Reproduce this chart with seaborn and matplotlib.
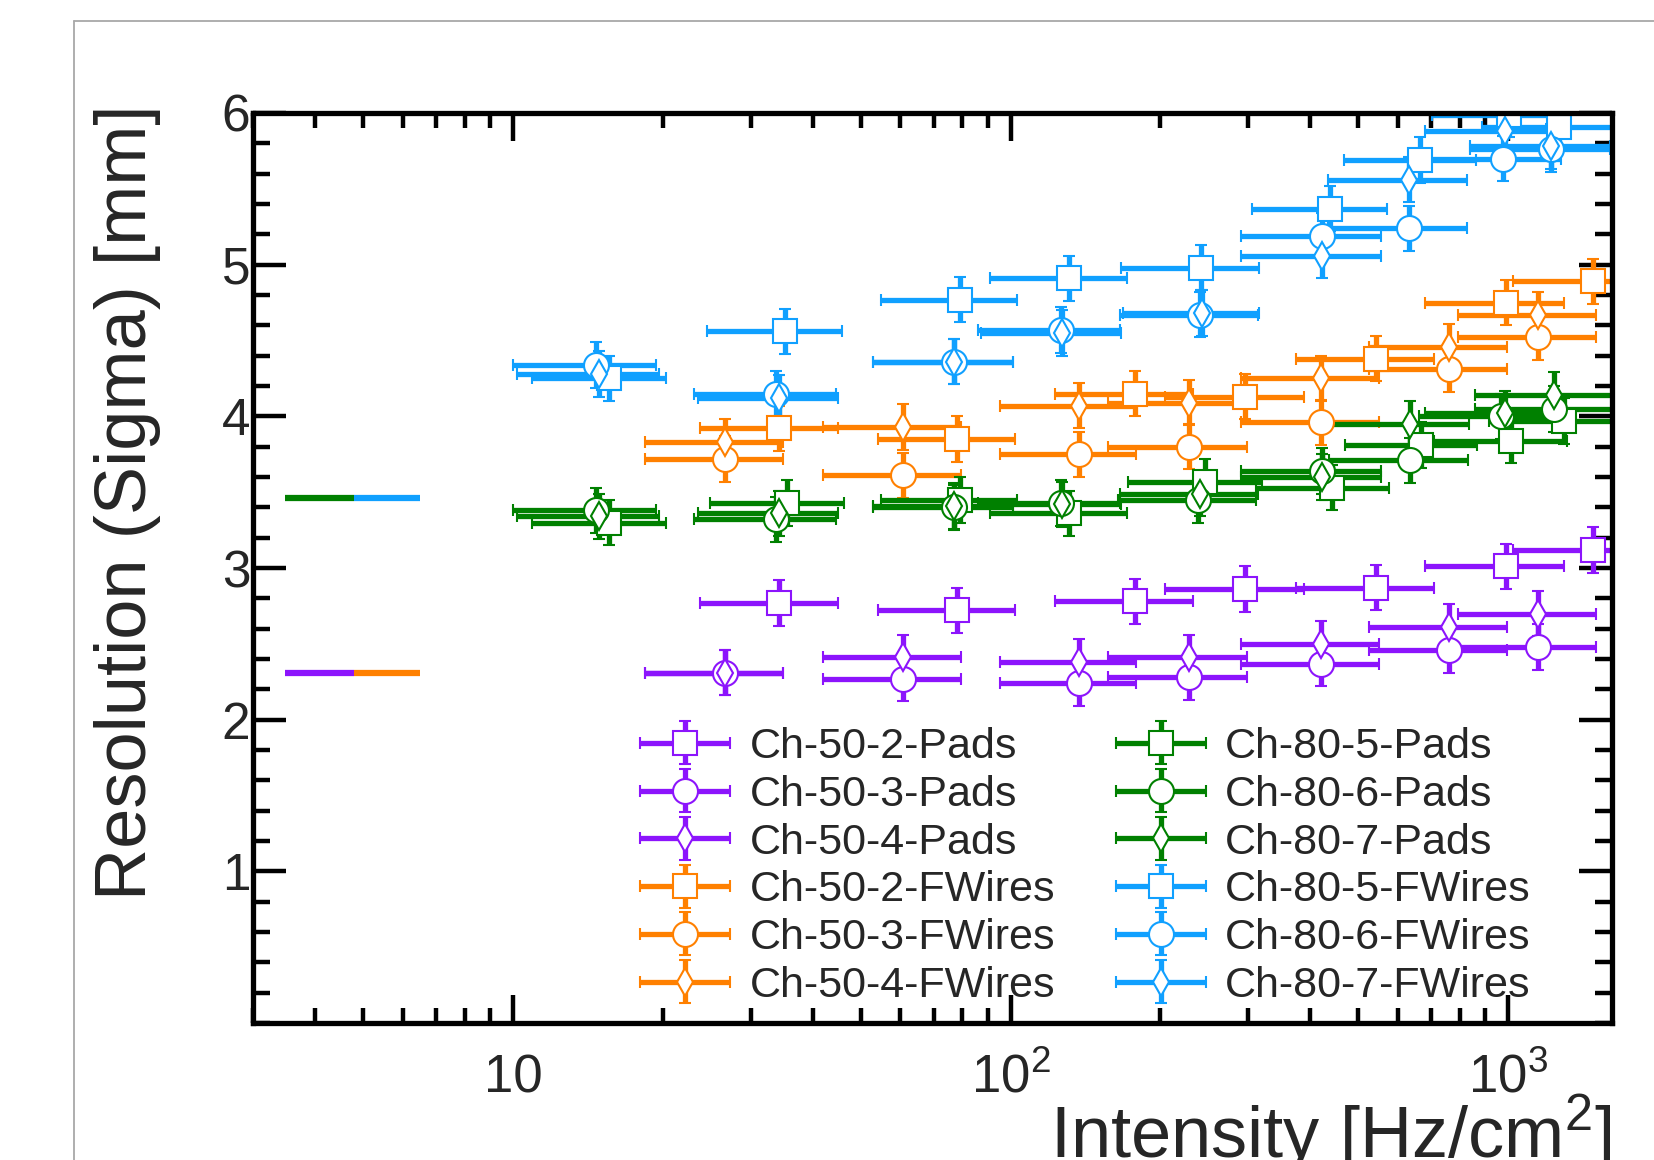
import matplotlib
matplotlib.use("Agg")
import matplotlib.pyplot as plt
import seaborn as sns
from matplotlib.lines import Line2D
from matplotlib.container import ErrorbarContainer
from matplotlib.legend_handler import HandlerErrorbar
from matplotlib.ticker import FixedLocator, FuncFormatter, LogLocator, MultipleLocator, NullFormatter

# ---------------- data ----------------
# x bins (intensity, Hz/cm^2) and their half-widths
x50_sq = [34.3, 78, 178, 296, 542, 988, 1479]
xe50_sq = [10.6, 24, 55, 92, 168, 306, 458]
x50_cd = [26.6, 60.8, 137, 228, 420, 760, 1146]
xe50_cd = [8.2, 18.8, 42, 71, 130, 236, 355]

x80_5_pads = [15.6, 35.6, 79, 131, 246, 443, 667, 1012, 1297]
x80_6_pads = [14.7, 33.8, 77, 126, 238, 423, 634, 966, 1238]
x80_7_pads = [14.9, 34.2, 77, 127, 240, 423, 636, 985, 1238]
x80_5_fw = [15.6, 35.2, 79, 131, 241, 438, 664, 1005, 1265]
x80_6_fw = [14.7, 33.8, 77, 126, 240, 423, 631, 975, 1220]
x80_7_fw = [14.9, 34.2, 77, 127, 242, 423, 631, 985, 1219]
xe80 = [4.7, 10.7, 24, 40, 74, 132, 197, 303, 380]

# resolution (sigma) [mm]
y50_2_pads = [2.77, 2.72, 2.78, 2.86, 2.87, 3.01, 3.12]
y50_3_pads = [2.31, 2.27, 2.24, 2.28, 2.37, 2.46, 2.48]
y50_4_pads = [2.31, 2.41, 2.38, 2.41, 2.50, 2.61, 2.70]
y50_2_fw = [3.92, 3.85, 4.15, 4.13, 4.38, 4.75, 4.89]
y50_3_fw = [3.72, 3.61, 3.75, 3.80, 3.96, 4.31, 4.52]
y50_4_fw = [3.83, 3.93, 4.07, 4.09, 4.25, 4.46, 4.67]
y80_5_pads = [3.30, 3.43, 3.45, 3.36, 3.57, 3.53, 3.81, 3.84, 3.97]
y80_6_pads = [3.38, 3.32, 3.40, 3.43, 3.45, 3.64, 3.71, 4.00, 4.05]
y80_7_pads = [3.34, 3.36, 3.41, 3.42, 3.49, 3.60, 3.95, 4.02, 4.14]
y80_5_fw = [4.25, 4.56, 4.77, 4.91, 4.98, 5.37, 5.69, 5.99, 5.91]
y80_6_fw = [4.34, 4.15, 4.36, 4.57, 4.67, 5.19, 5.24, 5.70, 5.76]
y80_7_fw = [4.28, 4.12, 4.36, 4.55, 4.68, 5.06, 5.56, 5.88, 5.78]
yerr_all = 0.15

# reference levels drawn at low intensity (two-colour segments)
ref_levels = [3.46, 2.31]
ref_x = [3.48, 4.78, 6.49]
ref_colors = [("#008000", "#10A0FF"), ("#8C14FC", "#FF8000")]

labels = ["Ch-50-2-Pads", "Ch-50-3-Pads", "Ch-50-4-Pads",
          "Ch-50-2-FWires", "Ch-50-3-FWires", "Ch-50-4-FWires",
          "Ch-80-5-Pads", "Ch-80-6-Pads", "Ch-80-7-Pads",
          "Ch-80-5-FWires", "Ch-80-6-FWires", "Ch-80-7-FWires"]
xs = [x50_sq, x50_cd, x50_cd, x50_sq, x50_cd, x50_cd,
      x80_5_pads, x80_6_pads, x80_7_pads, x80_5_fw, x80_6_fw, x80_7_fw]
xes = [xe50_sq, xe50_cd, xe50_cd, xe50_sq, xe50_cd, xe50_cd,
       xe80, xe80, xe80, xe80, xe80, xe80]
ys = [y50_2_pads, y50_3_pads, y50_4_pads, y50_2_fw, y50_3_fw, y50_4_fw,
      y80_5_pads, y80_6_pads, y80_7_pads, y80_5_fw, y80_6_fw, y80_7_fw]

PURPLE, ORANGE, GREEN, BLUE = "#8C14FC", "#FF8000", "#008000", "#10A0FF"
colors = [PURPLE] * 3 + [ORANGE] * 3 + [GREEN] * 3 + [BLUE] * 3
markers = ["s", "o", "d"] * 4
msizes = {"s": 17, "o": 18, "d": 14}

# ---------------- style ----------------
sns.set_theme(style="ticks")
plt.rcParams["font.family"] = ["Liberation Sans", "DejaVu Sans"]
plt.rcParams["mathtext.fontset"] = "custom"
plt.rcParams["mathtext.rm"] = "Liberation Sans"
plt.rcParams["mathtext.it"] = "Liberation Sans:italic"

fig = plt.figure(figsize=(16.54, 11.60), dpi=100)
fig.patch.set_facecolor("white")
ax = fig.add_axes([253 / 1654, 1 - 1023 / 1160, (1612 - 253) / 1654, (1023 - 113) / 1160])
ax.set_facecolor("white")

# canvas frame (grey border on left/top)
fig.add_artist(Line2D([74 / 1654, 1.0], [1 - 21 / 1160] * 2, transform=fig.transFigure,
                      color="#a8a8a8", lw=1.3))
fig.add_artist(Line2D([74 / 1654] * 2, [0.0, 1 - 21 / 1160], transform=fig.transFigure,
                      color="#a8a8a8", lw=1.3))

handles = []
for x, xe, y, c, m, lab in zip(xs, xes, ys, colors, markers, labels):
    h = ax.errorbar(x, y, xerr=xe, yerr=yerr_all, fmt=m, linestyle="none",
                    ms=msizes[m], mfc="white", mec=c, mew=1.5,
                    ecolor=c, elinewidth=3.8, capsize=4.5, capthick=4, label=lab)
    handles.append(h)

for lvl, (c1, c2) in zip(ref_levels, ref_colors):
    ax.hlines(lvl, ref_x[0], ref_x[1], color=c1, lw=4.5)
    ax.hlines(lvl, ref_x[1], ref_x[2], color=c2, lw=4.5)

ax.set_xscale("log")
ax.set_xlim(3, 1617)
ax.set_ylim(0, 6)

ax.xaxis.set_major_locator(FixedLocator([10, 100, 1000]))
ax.xaxis.set_major_formatter(FuncFormatter(
    lambda v, p: {10: "10", 100: r"$10^{2}$", 1000: r"$10^{3}$"}.get(int(round(v)), "")))
ax.xaxis.set_minor_locator(LogLocator(base=10, subs=range(2, 10), numticks=20))
ax.xaxis.set_minor_formatter(NullFormatter())
ax.yaxis.set_major_locator(FixedLocator([1, 2, 3, 4, 5, 6]))
ax.yaxis.set_minor_locator(MultipleLocator(0.2))

for s in ax.spines.values():
    s.set_linewidth(3.8)
    s.set_color("black")
    s.set_visible(True)

ax.tick_params(axis="both", which="both", direction="in", top=True, right=True,
               color="black", width=3.2)
ax.tick_params(axis="x", which="major", length=20, labelsize=38, pad=22)
ax.tick_params(axis="x", which="minor", length=11)
ax.tick_params(axis="y", which="major", length=24, labelsize=37, pad=2)
ax.tick_params(axis="y", which="minor", length=12)

ax.set_ylabel("Resolution (Sigma) [mm]", fontsize=52)
ax.yaxis.set_label_coords(-0.068, 0.572)
ax.set_xlabel(r"Intensity [Hz/cm$^{2}$]", fontsize=52)
ax.xaxis.set_label_coords(1.0, -0.076)
ax.xaxis.label.set_ha("right")

leg = ax.legend(handles=handles, labels=labels, ncol=2, frameon=False, fontsize=31,
                loc="upper left", bbox_to_anchor=(640 / 1654, 1 - 727 / 1160),
                bbox_transform=fig.transFigure, borderpad=0, borderaxespad=0,
                handlelength=2.1, handletextpad=0.45, columnspacing=1.4,
                labelspacing=0.18,
                handler_map={ErrorbarContainer: HandlerErrorbar(xerr_size=1.05, yerr_size=0.5)})

fig.savefig("out.png", dpi=100)
